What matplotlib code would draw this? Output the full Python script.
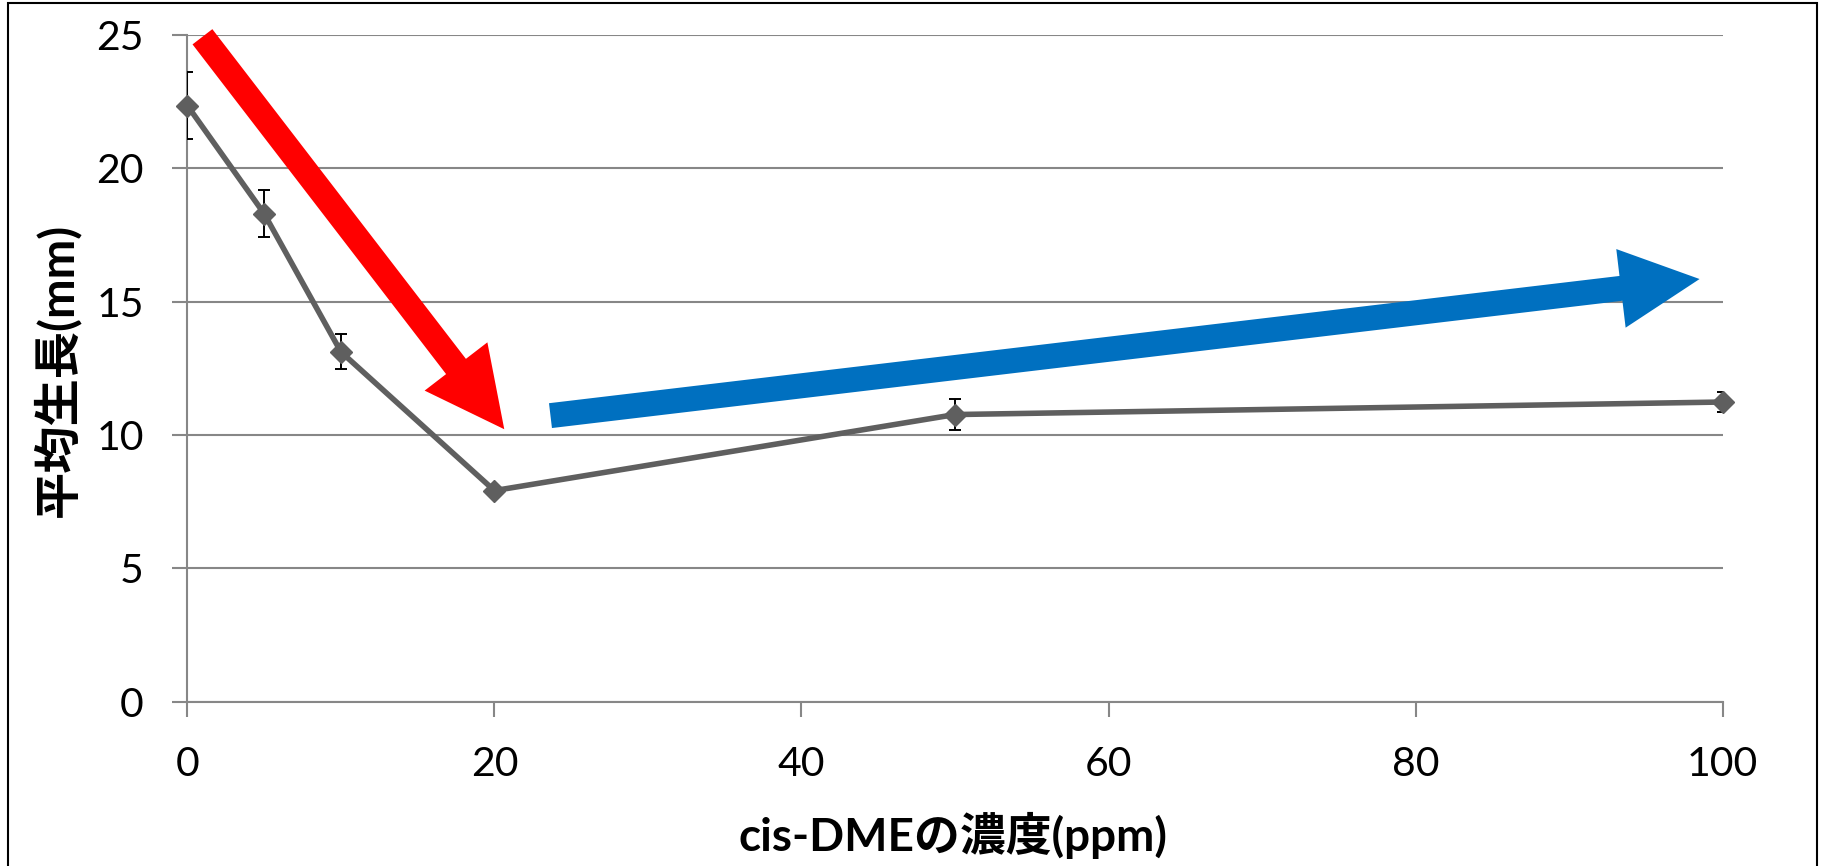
import matplotlib.pyplot as plt
from matplotlib.patches import FancyArrowPatch, ArrowStyle, Rectangle

# data
conc = [0, 5, 10, 20, 50, 100]
growth = [22.35, 18.3, 13.12, 7.92, 10.77, 11.24]
err = [1.27, 0.88, 0.66, 0.15, 0.58, 0.37]

x_ticks = [0, 20, 40, 60, 80, 100]
y_ticks = [0, 5, 10, 15, 20, 25]

# annotation arrows (start, end) in data units
red_arrow = [(0.98, 24.93), (20.64, 10.22)]
blue_arrow = [(23.65, 10.73), (98.5, 15.85)]

xlabel = 'cis-DMEの濃度(ppm)'
ylabel = '平均生長(mm)'

W, H = 1825, 866
fig = plt.figure(figsize=(W / 100, H / 100), dpi=100)
ax = fig.add_axes([187.4 / W, 1 - 701.9 / H, (1722.6 - 187.4) / W, (701.9 - 34.9) / H])

grid_c = '#878787'
ax.set_xlim(0, 100)
ax.set_ylim(0, 25)
ax.set_xticks(x_ticks)
ax.set_yticks(y_ticks)
ax.yaxis.grid(True, color=grid_c, lw=1.5)
ax.set_axisbelow(True)
for s in ['top', 'right']:
    ax.spines[s].set_visible(False)
for s in ['left', 'bottom']:
    ax.spines[s].set_color(grid_c)
    ax.spines[s].set_linewidth(1.5)
ax.tick_params(direction='out', length=10.5, width=1.5, color=grid_c,
               labelsize=29.5, pad=21)
for lab in ax.get_xticklabels() + ax.get_yticklabels():
    lab.set_family('Lato')

# error bars, then the line with diamond markers
ax.errorbar(conc, growth, yerr=err, fmt='none', ecolor='black',
            elinewidth=1.4, capsize=4.5, capthick=1.4, zorder=3)
ax.plot(conc, growth, color='#5f5f5f', lw=4, marker='D', ms=11,
        zorder=4, clip_on=False)

# the two block arrows
for (p0, p1), col in [(red_arrow, '#ff0000'), (blue_arrow, '#0070c0')]:
    arr = FancyArrowPatch(p0, p1,
                          arrowstyle=ArrowStyle.Simple(head_length=57, head_width=57, tail_width=18),
                          mutation_scale=1, shrinkA=0, shrinkB=0,
                          color=col, lw=0, zorder=5)
    arr.set_clip_on(False)
    ax.add_patch(arr)

fam = ['Lato', 'Noto Sans CJK JP']
fig.text(953 / W, 1 - 835 / H, xlabel, ha='center', va='center',
         fontsize=33, fontweight='bold', family=fam)
fig.text(56 / W, 1 - 370 / H, ylabel, ha='center', va='center', rotation=90,
         fontsize=34, fontweight='bold', family=fam)

# outer frame of the chart area
fig.add_artist(Rectangle((8 / W, -0.05), (1817 - 8) / W, 1.05 - 3.5 / H,
                         transform=fig.transFigure, fill=False, ec='black', lw=1.5))

fig.savefig('out.png', dpi=100)
